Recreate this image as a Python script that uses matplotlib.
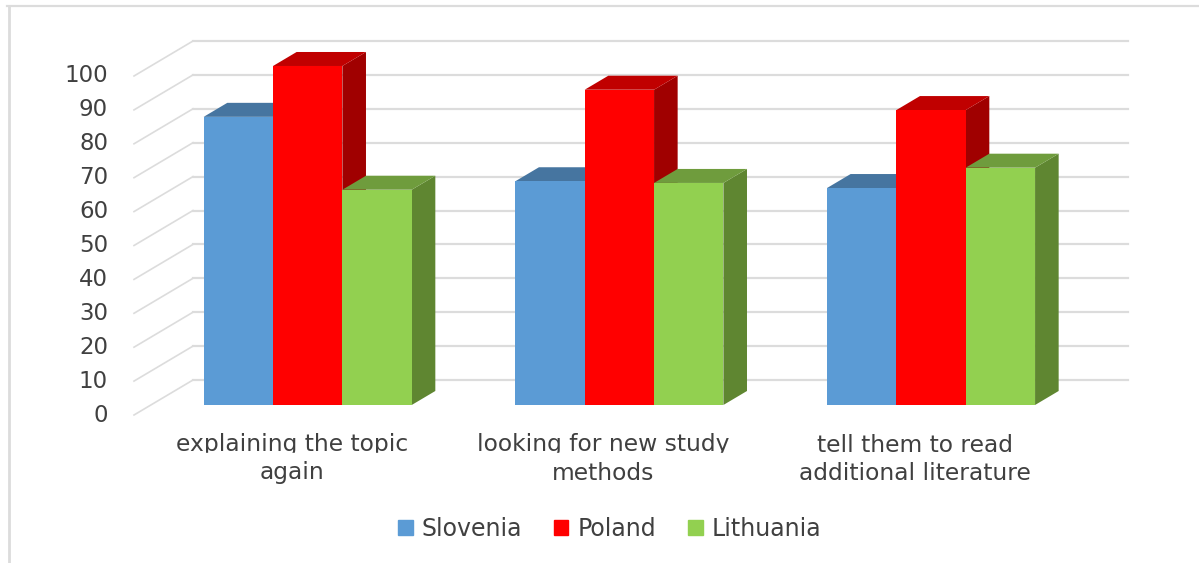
#!/usr/bin/env python3
import matplotlib
matplotlib.use("Agg")
import matplotlib.pyplot as plt
from matplotlib.lines import Line2D
from matplotlib.patches import Patch, Rectangle

W, H = 1199, 563

categories = ["explaining the topic\nagain", "looking for new study\nmethods",
              "tell them to read\nadditional literature"]
series_names = ["Slovenia", "Poland", "Lithuania"]
slovenia = [85, 66, 64]
poland = [100, 93, 87]
lithuania = [63.5, 65.5, 70]
y_ticks = list(range(0, 101, 10))

front_colors = ["#5B9BD5", "#FF0000", "#92D050"]
top_colors = ["#4675A0", "#C00000", "#6F9C3D"]
side_colors = ["#43709A", "#A00000", "#5F8631"]

# depth of the fake 3d box, 1 = back wall, 0 = front edge
PX_PER_CAT = 935 / 3
DX = 59 / PX_PER_CAT
DY = 35 / 3.39
BAR_W = 0.2225
BAR_SHIFT = 1.0 / PX_PER_CAT
BAR_FRONT = 0.286
BAR_BACK = 0.686


def project(x, y, depth):
    return x - (1 - depth) * DX, y - (1 - depth) * DY


def draw_bar(ax, x0, x1, value, i):
    fx0, fy1 = project(x0, value, BAR_FRONT)
    fx1, fy0 = project(x1, 0, BAR_FRONT)
    bx0, by1 = project(x0, value, BAR_BACK)
    bx1, by0 = project(x1, 0, BAR_BACK)
    ax.fill([fx1, bx1, bx1, fx1], [fy0, by0, by1, fy1], color=side_colors[i], lw=0, zorder=3, clip_on=False)
    ax.fill([fx0, bx0, bx1, fx1], [fy1, by1, by1, fy1], color=top_colors[i], lw=0, zorder=3, clip_on=False)
    ax.fill([fx0, fx1, fx1, fx0], [fy0, fy0, fy1, fy1], color=front_colors[i], lw=0, zorder=3, clip_on=False)


def main():
    fig = plt.figure(figsize=(W / 100, H / 100), dpi=100)
    plt.rcParams["font.family"] = "DejaVu Sans"
    ax = fig.add_axes([193 / W, 1 - 380 / H, 935 / W, 339 / H])
    ax.set_xlim(0, 3)
    ax.set_ylim(0, 100)
    ax.axis("off")

    for v in y_ticks:
        ax.plot([0, 3], [v, v], color="#DCDCDC", lw=1.6, clip_on=False, zorder=1)
        x0, y0 = project(0, v, 0)
        ax.plot([x0, 0], [y0, v], color="#DCDCDC", lw=1.2, clip_on=False, zorder=1)
        ax.text(x0 - 26 / PX_PER_CAT, y0, str(v), ha="right", va="center", fontsize=16.5, color="#404040")

    values = [slovenia, poland, lithuania]
    for c in range(len(categories)):
        for i, vals in enumerate(values):
            x0 = c + 0.5 + (i - 1.5) * BAR_W + BAR_SHIFT
            draw_bar(ax, x0, x0 + BAR_W, vals[c], i)

    for c, label in enumerate(categories):
        first, second = label.split("\n")
        cx = project(c + 0.5, 0, BAR_FRONT)[0] - 15 / PX_PER_CAT
        fx = (cx * PX_PER_CAT + 193) / W
        fig.text(fx, 1 - 445 / H, first, ha="center", va="center", fontsize=16.8, color="#404040")
        fig.text(fx, 1 - 473 / H, second, ha="center", va="center", fontsize=16.8, color="#404040")

    handles = [Patch(color=col) for col in front_colors]
    fig.legend(handles, series_names, loc="center", bbox_to_anchor=(610 / W, 1 - 529 / H), ncols=3,
               frameon=False, fontsize=17, labelcolor="#404040", handlelength=0.6, handleheight=0.6,
               handletextpad=0.4, columnspacing=1.35)

    # chart frame, only top and left survive in the crop
    fig.add_artist(Line2D([8.5 / W, 8.5 / W], [0, 1 - 6 / H], color="#DCDCDC", lw=2))
    fig.add_artist(Line2D([7 / W, 1], [1 - 6 / H, 1 - 6 / H], color="#DCDCDC", lw=1.6))

    # descenders of the first label line are cut off in the original
    fig.add_artist(Rectangle((150 / W, 1 - 459 / H), 650 / W, 6 / H, color="white", transform=fig.transFigure, zorder=20))

    fig.savefig("out.png", dpi=100)
    plt.close(fig)


if __name__ == "__main__":
    main()
